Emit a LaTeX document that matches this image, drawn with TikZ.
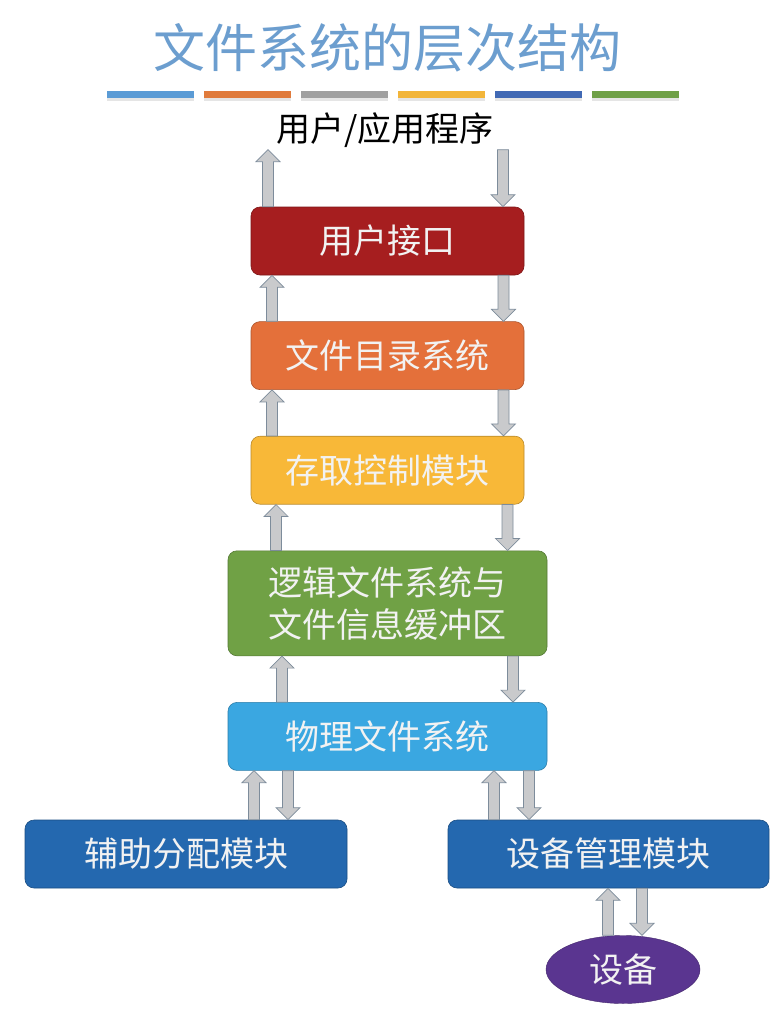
\documentclass[tikz,border=0pt]{standalone}
\usepackage{fontspec}
\usepackage{tikz}
\usetikzlibrary{positioning,calc,shapes.geometric}
\newfontfamily\cjk{Noto Sans CJK SC}
\definecolor{FSTitle}{HTML}{6C9ECF}
\definecolor{FSRed}{HTML}{A61E1F}
\definecolor{FSOrange}{HTML}{E4703A}
\definecolor{FSYellow}{HTML}{F8B838}
\definecolor{FSGreen}{HTML}{70A145}
\definecolor{FSSky}{HTML}{3AA7E1}
\definecolor{FSBlue}{HTML}{2468AF}
\definecolor{FSPurple}{HTML}{5A3590}
\definecolor{FSArrow}{HTML}{C9CACC}
\definecolor{FSArrowEdge}{HTML}{7D8C9B}
\definecolor{FSBarBlue}{HTML}{5B9BD5}
\definecolor{FSBarOrange}{HTML}{E07B3C}
\definecolor{FSBarGray}{HTML}{A0A0A0}
\definecolor{FSBarYellow}{HTML}{F2B53A}
\definecolor{FSBarNavy}{HTML}{4169B4}
\definecolor{FSBarGreen}{HTML}{6FA047}

\begin{document}
\begin{tikzpicture}[x=1pt, y=-1pt,
    node distance=46pt,
    layer/.style={draw=#1!75!black, fill=#1, rounded corners=9pt, line width=0.6pt,
      minimum width=273pt, minimum height=68pt, align=center, text=white!95!black,
      font=\cjk\fontsize{34}{42}\selectfont},
    barrow/.style={draw=FSArrowEdge, fill=FSArrow, line width=0.7pt,
      to path={let \p1=(\tikztostart), \p2=(\tikztotarget),
        \p3=($(\tikztotarget)!12pt!(\tikztostart)$) in
        (\x1-5.5pt,\y1) -- (\x1-5.5pt,\y3) -- (\x1-12pt,\y3) -- (\x1,\y2)
        -- (\x1+12pt,\y3) -- (\x1+5.5pt,\y3) -- (\x1+5.5pt,\y1) -- cycle}}
  ]
    \useasboundingbox (0,0) rectangle (781,1015);
    \fill[white] (0,0) rectangle (781,1015);

    \node[font=\cjk\fontsize{52}{60}\selectfont, text=FSTitle] (title) at (387.5,48) {文件系统的层次结构};
    \foreach \c [count=\i] in {FSBarBlue,FSBarOrange,FSBarGray,FSBarYellow,FSBarNavy,FSBarGreen} {
      \fill[black!10] (10+97*\i,95) rectangle ++(87,6);
      \fill[\c] (10+97*\i,91) rectangle ++(87,7);
    }
    \node[font=\cjk\fontsize{34}{40}\selectfont, inner sep=2pt] (app) at (385,130) {用户/应用程序};

    \node[layer=FSRed] (iface) at (387.5,241) {用户接口};
    \node[layer=FSOrange, below=of iface] (dirsys) {文件目录系统};
    \node[layer=FSYellow, below=of dirsys] (access) {存取控制模块};
    \node[layer=FSGreen, minimum width=319pt, minimum height=105pt, below=of access] (logic)
      {逻辑文件系统与\\文件信息缓冲区};
    \node[layer=FSSky, minimum width=319pt, below=of logic] (phys) {物理文件系统};
    \node[layer=FSBlue, minimum width=322pt, below=49pt of phys, xshift=-201.5pt] (alloc) {辅助分配模块};
    \node[layer=FSBlue, minimum width=321pt, below=49pt of phys, xshift=221pt] (devmgr) {设备管理模块};
    \node[ellipse, fill=FSPurple, draw=FSPurple!75!black, minimum width=154pt, minimum height=68pt,
      inner sep=0pt, text=white!95!black, font=\cjk\fontsize{34}{40}\selectfont,
      below=47pt of devmgr, xshift=14.5pt] (dev) {设备};

    \draw[barrow] (268,0 |- iface.north) to (268,0 |- app.south);
    \draw[barrow] (503,0 |- app.south) to (503,0 |- iface.north);
    \draw[barrow] (272,0 |- dirsys.north) to (272,0 |- iface.south);
    \draw[barrow] (503.5,0 |- iface.south) to (503.5,0 |- dirsys.north);
    \draw[barrow] (272,0 |- access.north) to (272,0 |- dirsys.south);
    \draw[barrow] (503.5,0 |- dirsys.south) to (503.5,0 |- access.north);
    \draw[barrow] (276,0 |- logic.north) to (276,0 |- access.south);
    \draw[barrow] (507.5,0 |- access.south) to (507.5,0 |- logic.north);
    \draw[barrow] (282,0 |- phys.north) to (282,0 |- logic.south);
    \draw[barrow] (513,0 |- logic.south) to (513,0 |- phys.north);
    \draw[barrow] (254,0 |- alloc.north) to (254,0 |- phys.south);
    \draw[barrow] (288,0 |- phys.south) to (288,0 |- alloc.north);
    \draw[barrow] (494,0 |- devmgr.north) to (494,0 |- phys.south);
    \draw[barrow] (529,0 |- phys.south) to (529,0 |- devmgr.north);
    \draw[barrow] (608,0 |- dev.north) to (608,0 |- devmgr.south);
    \draw[barrow] (642,0 |- devmgr.south) to (642,0 |- dev.north);
  \end{tikzpicture}
\end{document}
